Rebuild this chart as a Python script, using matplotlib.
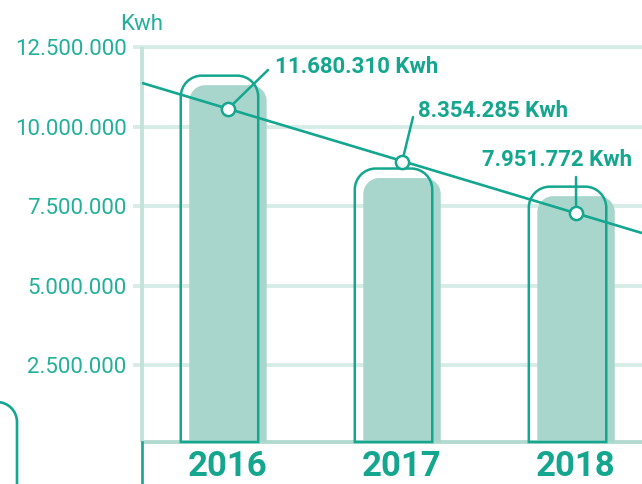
import numpy as np
import matplotlib
matplotlib.use('Agg')
import matplotlib.pyplot as plt
from matplotlib.path import Path
from matplotlib.patches import PathPatch
from matplotlib.transforms import IdentityTransform

plt.rcParams['font.family'] = ['Roboto', 'DejaVu Sans']

# ── data ─────────────────────────────────────────────────────────────────────
years      = ['2016', '2017', '2018']
consumo    = [11680310, 8354285, 7951772]        # labelled values (Kwh)
bar_tops   = [11.30e6, 8.38e6, 7.81e6]           # height of the filled bars as drawn
trend_pts  = [10.55e6, 8.88e6, 7.28e6]           # trend line at each year
trend_x    = [-0.494, 2.379]                     # trend line ends (axis -> right edge)
trend_ends = [11.37e6, 6.65e6]
yticks     = [2500000, 5000000, 7500000, 10000000, 12500000]

TEAL  = '#14a68e'
TICKC = '#22b09a'
FILL  = '#a9d6cc'
GRID  = '#d6ece6'
AXLN  = '#c3e2da'
BASE  = '#b3dad0'

W, H = 642, 484
fig = plt.figure(figsize=(W / 100, H / 100), dpi=100, facecolor='white')
ax = fig.add_axes([142 / W, (H - 442) / H, (W - 142) / W, (442 - 47) / H])
y0 = 0.08e6
ax.set_xlim(-0.494, 2.379)
ax.set_ylim(y0, 12.5e6)
for s in ax.spines.values():
    s.set_visible(False)
ax.set_xticks([])

# pixel -> data scale
px_x = (2.379 + 0.494) / (W - 142)
px_y = (12.5e6 - y0) / (442 - 47)


def rounded_bar(xc, top, width, r_px, base):
    """Closed path for a bar with rounded top corners (radius in pixels)."""
    k = 0.5523
    x0, x1 = xc - width / 2, xc + width / 2
    rx, ry = r_px * px_x, r_px * px_y
    verts = [(x0, base), (x0, top - ry),
             (x0, top - ry + k * ry), (x0 + rx - k * rx, top), (x0 + rx, top),
             (x1 - rx, top),
             (x1 - rx + k * rx, top), (x1, top - ry + k * ry), (x1, top - ry),
             (x1, base), (x0, base)]
    codes = [Path.MOVETO, Path.LINETO,
             Path.CURVE4, Path.CURVE4, Path.CURVE4,
             Path.LINETO,
             Path.CURVE4, Path.CURVE4, Path.CURVE4,
             Path.LINETO, Path.CLOSEPOLY]
    return Path(verts, codes)


# grid lines
ax.hlines(yticks, -0.494 - 9 * px_x, 2.379, colors=GRID, lw=2.8, clip_on=False, zorder=1)
ax.hlines([y0], -0.494, 2.379, colors=BASE, lw=2.8, clip_on=False, zorder=1)
ax.vlines([-0.494], y0, 12.5e6, colors=AXLN, lw=2.8, clip_on=False, zorder=1)

# y tick labels
ax.set_yticks(yticks)
ax.set_yticklabels([f'{v:,}'.replace(',', '.') for v in yticks])
ax.tick_params(axis='y', length=0, pad=11, labelsize=16, labelcolor=TICKC)

# bars: filled shape + outlined copy shifted up/left
bw = 0.445
for i, top in enumerate(bar_tops):
    ax.add_patch(PathPatch(rounded_bar(i, top, bw, 16, y0), fc=FILL, ec='none', zorder=2))
    ax.add_patch(PathPatch(rounded_bar(i - 8.5 * px_x, top + 9.5 * px_y, bw, 21, y0),
                           fc='none', ec=TEAL, lw=1.8, zorder=3, clip_on=False))

# trend line
ax.plot(trend_x, trend_ends, color=TEAL, lw=1.9, zorder=4, solid_capstyle='butt')

# leader lines + labels
leaders = [(40, 39), (11, 45), (0, 36)]
label_pos = [(47, 36), (16, 45), (-94, 47)]
for i, (v, t) in enumerate(zip(consumo, trend_pts)):
    ax.annotate('', xy=(i, t), xytext=leaders[i], textcoords='offset pixels',
                arrowprops=dict(arrowstyle='-', color=TEAL, lw=1.8,
                                shrinkA=0, shrinkB=0), zorder=5)
    ax.annotate(f'{v:,}'.replace(',', '.') + ' Kwh', xy=(i, t), xytext=label_pos[i],
                textcoords='offset pixels', ha='left', va='baseline',
                fontsize=16, fontweight='bold', color=TEAL, zorder=6)
ax.plot(range(3), trend_pts, 'o', ms=9.5, mfc='white', mec=TEAL, mew=1.8, zorder=6)

# year labels
for i, yr in enumerate(years):
    ax.annotate(yr, xy=(i, 1), xycoords=('data', 'figure pixels'), ha='center',
                va='bottom', fontsize=25, fontweight='bold', color=TEAL,
                annotation_clip=False)

# unit label
fig.text(120 / W, (H - 30) / H, 'Kwh', fontsize=16, color=TICKC,
         ha='left', va='baseline')

# decorative frame bits
k = 0.5523
frame = Path([(-10, H - 402), (-3, H - 402), (-3 + 20 * k, H - 402), (17, H - 422 + 20 * k),
              (17, H - 422), (17, -10)],
             [Path.MOVETO, Path.LINETO, Path.CURVE4, Path.CURVE4, Path.CURVE4, Path.LINETO])
fig.add_artist(PathPatch(frame, fc='none', ec=TEAL, lw=1.9, transform=IdentityTransform()))
fig.add_artist(plt.Line2D([142, 142], [H - 442, -10], color=TEAL, lw=1.9,
                          transform=IdentityTransform()))

fig.savefig('out.png', dpi=100, facecolor='white')
